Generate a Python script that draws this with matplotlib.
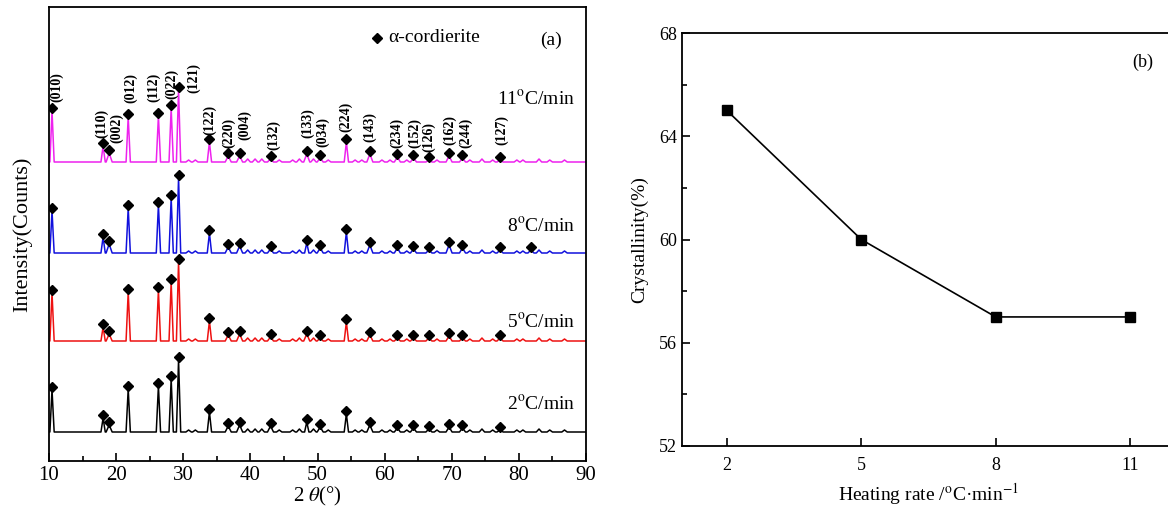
import numpy as np
import matplotlib
matplotlib.use('Agg')
import matplotlib.pyplot as plt
from matplotlib.ticker import MultipleLocator

plt.rcParams['font.family'] = ['Liberation Serif', 'DejaVu Serif']
plt.rcParams['mathtext.fontset'] = 'stix'

# alpha-cordierite reflections
hkl = ['(010)', '(110)', '(002)', '(012)', '(112)', '(022)', '(121)', '(122)', '(220)',
       '(004)', '(132)', '(133)', '(034)', '(224)', '(143)', '(234)', '(152)', '(126)',
       '(162)', '(244)', '(127)']
two_theta = [10.45, 18.06, 18.96, 21.8, 26.3, 28.2, 29.3, 33.9, 36.7, 38.4, 43.0,
             48.4, 50.4, 54.3, 57.8, 61.9, 64.3, 66.6, 69.6, 71.6, 77.2]

# peak heights above baseline (arb. units) for each heating rate
h_2 = [42, 14, 7, 43, 46, 53, 72, 20, 6, 7, 6, 10, 5, 18, 7, 4, 4, 3, 5, 4, 2]
h_5 = [48, 14, 7, 49, 51, 59, 79, 20, 6, 7, 4, 7, 3, 19, 6, 3, 3, 3, 5, 3, 3]
h_8 = [42, 16, 9, 45, 48, 55, 75, 20, 6, 7, 4, 10, 5, 21, 8, 5, 4, 3, 8, 5, 3]
h_11 = [51, 16, 9, 45, 46, 54, 72, 20, 6, 6, 3, 8, 4, 20, 8, 5, 4, 2, 6, 4, 2]
extra_8 = [(81.8, 3)]  # extra marked peak only on the 8 C/min pattern

# small unmarked humps
minor_pos = [30.8, 31.8, 39.6, 40.7, 41.7, 44.3, 46.3, 47.3, 49.4, 51.6, 55.6, 56.6,
             59.6, 60.8, 63.3, 67.8, 72.7, 74.5, 76.1, 79.7, 80.6, 83.0, 84.6, 86.8]
minor_h = [2, 2, 3, 3, 3, 2, 2, 3, 3, 2, 2, 2, 2, 2, 2, 2, 2, 3, 2, 2, 2, 3, 2, 2]

baselines = {'2': 29, '5': 120, '8': 208, '11': 299}
colors = {'2': 'black', '5': '#ee1111', '8': '#1111dd', '11': '#ee22ee'}
label_y = {'2': 0.126, '5': 0.306, '8': 0.518, '11': 0.797}

# miller index labels: x position (2theta) and bottom of text
lab_x = [11.2, 17.9, 20.1, 22.1, 25.6, 28.2, 31.5, 34.0, 36.7, 39.1, 43.4, 48.6, 50.8,
         54.2, 57.8, 61.8, 64.5, 66.6, 69.7, 72.0, 77.5]
lab_y = [359, 323, 318, 358, 359, 362, 368, 326, 313, 321, 311, 323, 314, 329, 319,
         313, 313, 309, 316, 313, 316]

# panel (b)
rate = [2, 5, 8, 11]
crystallinity = [65, 60, 57, 57]


def pattern(base, heights, extra):
    feats = [(p, h, 0.32 if h >= 10 else 0.45) for p, h in zip(two_theta, heights)]
    feats += [(p, h, 0.45) for p, h in extra]
    feats += [(p, h, 0.4) for p, h in zip(minor_pos, minor_h)]
    feats.sort()
    xs, ys = [10.0], [base]
    for p, h, w in feats:
        xs += [p - w, p, p + w]
        ys += [base, base + h, base]
    xs.append(90.0)
    ys.append(base)
    return np.array(xs), np.array(ys)


fig = plt.figure(figsize=(11.68, 5.14), dpi=100)
ax = fig.add_axes([49/1168, 53/514, 537/1168, 454/514])

series = [('2', h_2, []), ('5', h_5, []), ('8', h_8, extra_8), ('11', h_11, [])]
for key, hs, ex in series:
    b = baselines[key]
    x, y = pattern(b, hs, ex)
    ax.plot(x, y, color=colors[key], lw=1.1)
    mx = list(two_theta) + [p for p, h in ex]
    my = [b + h + 3.5 for h in hs] + [b + h + 3.5 for p, h in ex]
    ax.plot(mx, my, 'D', color='black', ms=4.8, ls='none')
    ax.text(0.98, label_y[key], key + r'$^{\rm o}$C/min', transform=ax.transAxes,
            ha='right', va='center', fontsize=14)

for t, xx, yy in zip(hkl, lab_x, lab_y):
    ax.text(xx, yy, t, rotation=90, ha='center', va='bottom', fontsize=10,
            fontweight='bold')

ax.plot([0.611], [0.932], 'D', color='black', ms=5, transform=ax.transAxes)
ax.text(0.631, 0.932, 'α-cordierite', transform=ax.transAxes, ha='left',
        va='center', fontsize=14)
ax.text(0.935, 0.927, '(a)', transform=ax.transAxes, ha='center', va='center',
        fontsize=14)

ax.set_xlim(10, 90)
ax.set_ylim(0, 454)
ax.set_yticks([])
ax.xaxis.set_major_locator(MultipleLocator(10))
ax.xaxis.set_minor_locator(MultipleLocator(5))
ax.tick_params(axis='x', which='both', direction='in', top=False, labelsize=15,
               width=1.2)
ax.tick_params(axis='x', which='major', length=6)
ax.tick_params(axis='x', which='minor', length=3.5)
ax.set_xlabel(r'2 $\mathit{\theta}$(°)', fontsize=15, labelpad=0)
ax.set_ylabel('Intensity(Counts)', fontsize=16, labelpad=12)
for s in ax.spines.values():
    s.set_linewidth(1.3)

# panel (b)
bx = fig.add_axes([682/1168, 68/514, 493/1168, 413/514])
bx.plot(rate, crystallinity, '-s', color='black', lw=1.2, ms=7)
bx.set_xlim(1, 12)
bx.set_ylim(52, 68)
bx.set_xticks(rate)
bx.yaxis.set_major_locator(MultipleLocator(4))
bx.yaxis.set_minor_locator(MultipleLocator(2))
bx.tick_params(which='both', direction='in', labelsize=13, width=1.2)
bx.tick_params(which='major', length=6)
bx.tick_params(which='minor', length=3.5)
bx.tick_params(axis='x', pad=8)
bx.set_xlabel(r'Heating rate /$^{\rm o}$C·min$^{-1}$', fontsize=14, labelpad=5)
bx.set_ylabel('Crystallinity(%)', fontsize=14, labelpad=8)
bx.text(0.935, 0.930, '(b)', transform=bx.transAxes, ha='center', va='center',
        fontsize=13)
for s in bx.spines.values():
    s.set_linewidth(1.3)

fig.savefig('out.png', dpi=100)
